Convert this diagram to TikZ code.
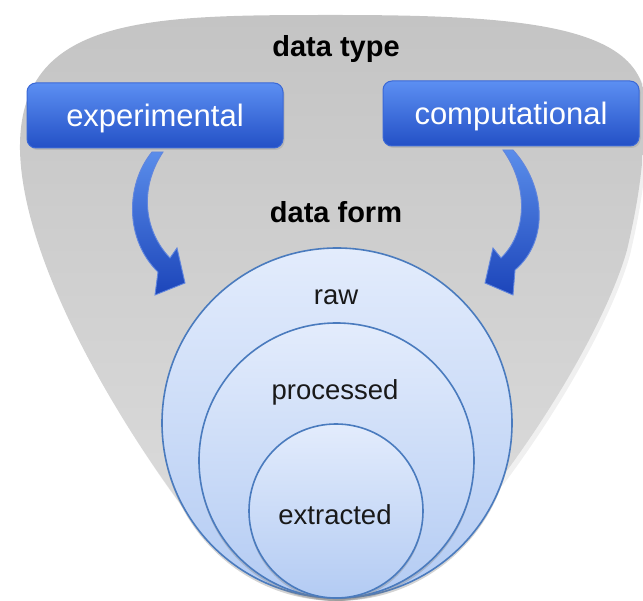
\documentclass[tikz,border=0pt]{standalone}
\usepackage{fontspec}
\setmainfont{Liberation Sans}
\usetikzlibrary{shadows}
\definecolor{boxtop}{HTML}{5C8FF2}
\definecolor{boxbot}{HTML}{2350C6}
\definecolor{boxline}{HTML}{3A68D6}
\definecolor{circtop}{HTML}{E3ECFC}
\definecolor{circbot}{HTML}{B3CBF3}
\definecolor{circline}{HTML}{4A7BBE}
\definecolor{funtop}{HTML}{C4C4C4}
\definecolor{funbot}{HTML}{DEDEDE}
\definecolor{arrtop}{HTML}{5A8DEA}
\definecolor{arrbot}{HTML}{1C45BA}
\begin{document}
\begin{tikzpicture}[x=1pt,y=-1pt,
  typebox/.style={rectangle, rounded corners=9pt, draw=boxline, line width=1pt,
    top color=boxtop, bottom color=boxbot, text=white,
    font=\fontsize{31}{36}\selectfont, minimum height=65pt, inner sep=0pt,
    text height=22pt, text depth=0pt,
    drop shadow={opacity=0.25, shadow xshift=1.5pt, shadow yshift=-2pt}},
  formcircle/.style={circle, draw=circline, line width=1.6pt,
    top color=circtop, bottom color=circbot, inner sep=0pt,
    drop shadow={opacity=0.35, shadow xshift=0pt, shadow yshift=-3pt}},
  formlabel/.style={font=\fontsize{27.5}{32}\selectfont, anchor=base, text=black!90},
  headlabel/.style={font=\bfseries\fontsize{29}{34}\selectfont, anchor=base},
  bluearrow/.style={draw=boxline!80!white, line width=0.9pt, top color=arrtop, bottom color=arrbot}
]
\useasboundingbox (0,0) rectangle (643,601);

% funnel soft shadow
\fill[black, opacity=0.06, shift={(3,5)}]
  (200,530) .. controls (100,400) and (22,250) .. (20,150)
  .. controls (18,15) and (150,15) .. (336,15)
  .. controls (520,15) and (640,25) .. (645,100)
  .. controls (645,170) and (635,215) .. (627,250)
  .. controls (610,310) and (560,400) .. (500,480) -- (337,598) -- cycle;
% funnel
\shade[top color=funtop, bottom color=funbot]
  (200,530) .. controls (100,400) and (22,250) .. (20,150)
  .. controls (18,15) and (150,15) .. (336,15)
  .. controls (520,15) and (640,25) .. (645,100)
  .. controls (645,170) and (635,215) .. (627,250)
  .. controls (610,310) and (560,400) .. (500,480) -- (337,598) -- cycle;

% curved arrows
\path[bluearrow]
  (152,152) .. controls (125,185) and (125,240) .. (158,272)
  -- (155,295) -- (185,283) -- (177,248) -- (170,258)
  .. controls (145,232) and (138,190) .. (163,152) -- cycle;
\path[bluearrow]
  (513,150) .. controls (545,185) and (550,240) .. (515,270)
  -- (513,295) -- (485,283) -- (493,248) -- (501,258)
  .. controls (528,232) and (528,185) .. (503,150) -- cycle;

% data type boxes
\node[typebox, minimum width=256pt] (exp) at (155,115.5) {experimental};
\node[typebox, minimum width=256pt] (comp) at (511,113.5) {computational};

% data form circles
\node[formcircle, minimum size=350pt] (raw) at (337,423) {};
\node[formcircle, minimum size=275pt] (proc) at (336.5,460.5) {};
\node[formcircle, minimum size=174pt] (extr) at (336,511) {};

\node[formlabel] (rawlbl) at (336,305) {raw};
\node[formlabel] (proclbl) at (335,400) {processed};
\node[formlabel] (extrlbl) at (335,525) {extracted};

\node[headlabel] (typelbl) at (336,57) {data type};
\node[headlabel] (formlbl) at (336,223) {data form};
\end{tikzpicture}
\end{document}
